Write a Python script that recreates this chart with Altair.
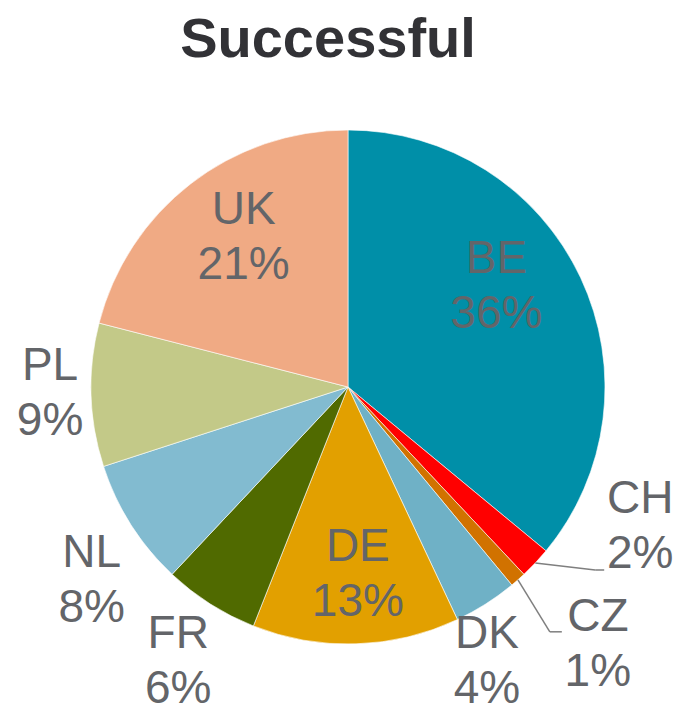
import altair as alt
import pandas as pd

# Data
title_text = ["Successful"]
countries = ["BE", "CH", "CZ", "DK", "DE", "FR", "NL", "PL", "UK"]
shares = [36, 2, 1, 4, 13, 6, 8, 9, 21]

# Styles
colors = ["#008FA8", "#FF0000", "#D17200", "#6FB1C6", "#E2A000",
          "#506A00", "#82BBD0", "#C3C988", "#F0AA84"]
label_angle = [56, 115.6, 135.9, 153.2, 177, 211.7, 233, 268.8, 325]
label_radius = [179, 324, 359, 308, 188, 323, 321, 298, 182]
# leader line elbow / end offsets relative to label centre (only CH, CZ)
lead_ex = [None, -45, -48, None, None, None, None, None, None]
lead_ey = [None, 43, -13, None, None, None, None, None, None]
lead_tx = [None, -36, -36, None, None, None, None, None, None]

W = H = 600
CX, CY = W / 2, H / 2
R = 257

df = pd.DataFrame({
    "country": countries,
    "share": shares,
    "order": list(range(len(countries))),
    "la": label_angle,
    "lr": label_radius,
    "ex": lead_ex,
    "ey": lead_ey,
    "tx": lead_tx,
})
df["label"] = [f"{c}\n{s}%" for c, s in zip(countries, shares)]

base = alt.Chart(df)

arcs = base.mark_arc(outerRadius=R, stroke="white", strokeWidth=0.6).encode(
    theta=alt.Theta("share:Q", stack=True),
    color=alt.Color("country:N", scale=alt.Scale(domain=countries, range=colors), legend=None),
    order=alt.Order("order:Q"),
)

pos = base.transform_calculate(
    lx=f"{CX} + datum.lr*sin(datum.la*PI/180)",
    ly=f"{CY} - datum.lr*cos(datum.la*PI/180)",
)

labels = pos.mark_text(
    font="Liberation Sans", fontSize=46, lineHeight=55, lineBreak="\n",
    color="#636569", baseline="middle", align="center", dy=-27.5,
).encode(
    x=alt.X("lx:Q", scale=None),
    y=alt.Y("ly:Q", scale=None),
    text="label:N",
)

lead_base = pos.transform_window(
    cum="sum(share)", sort=[alt.SortField("order")], frame=[None, 0]
).transform_joinaggregate(
    total="sum(share)"
).transform_calculate(
    mid="(datum.cum - datum.share/2)/datum.total*2*PI",
).transform_filter(
    "isValid(datum.ex)"
).transform_calculate(
    sx=f"{CX} + {R}*sin(datum.mid)",
    sy=f"{CY} - {R}*cos(datum.mid)",
    bx="datum.lx + datum.ex",
    by="datum.ly + datum.ey",
    exx="datum.lx + datum.tx",
)

seg1 = lead_base.mark_rule(color="#7F7F7F", strokeWidth=1.5).encode(
    x=alt.X("sx:Q", scale=None), y=alt.Y("sy:Q", scale=None),
    x2="bx:Q", y2="by:Q",
)
seg2 = lead_base.mark_rule(color="#7F7F7F", strokeWidth=1.5).encode(
    x=alt.X("bx:Q", scale=None), y=alt.Y("by:Q", scale=None),
    x2="exx:Q", y2="by:Q",
)

title = alt.Chart(pd.DataFrame({"t": title_text})).mark_text(
    font="Liberation Sans", fontSize=56, fontWeight="bold", color="#323236",
    align="center", baseline="alphabetic",
).encode(
    x=alt.value(CX - 20), y=alt.value(-30), text="t:N",
)

chart = alt.layer(arcs, seg1, seg2, labels, title).properties(
    width=W, height=H,
    autosize=alt.AutoSizeParams(type="none"),
    padding={"left": 40, "top": 79, "right": 25, "bottom": 18},
).configure_view(stroke=None)

chart.save("out.html", embed_options={"renderer": "svg", "actions": False})
